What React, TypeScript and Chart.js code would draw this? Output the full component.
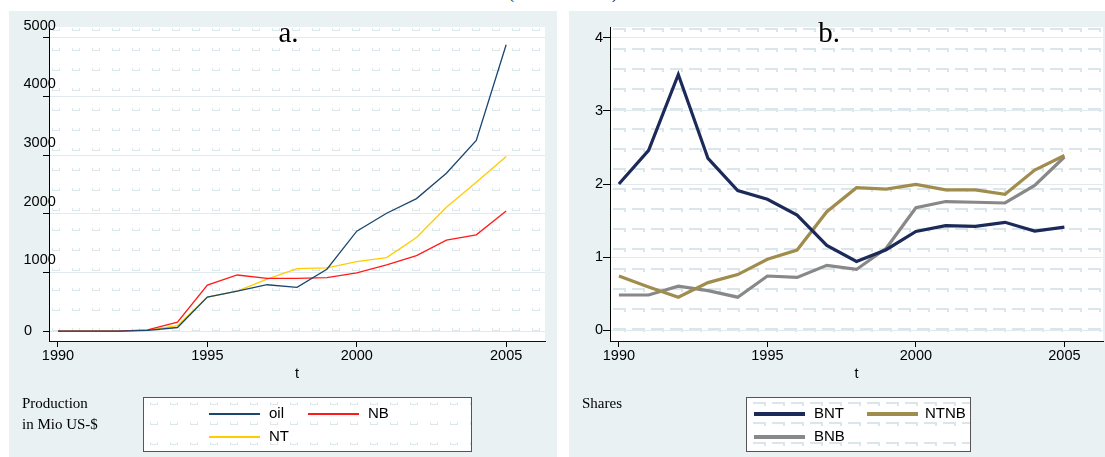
import React, { useEffect, useRef } from 'react';
import { Chart, registerables } from 'chart.js';

Chart.register(...registerables);

// ---------- data ----------
const years = [1990, 1991, 1992, 1993, 1994, 1995, 1996, 1997, 1998, 1999, 2000, 2001, 2002, 2003, 2004, 2005];

const oil = [0, 0, 0, 10, 60, 578, 680, 789, 745, 1054, 1702, 2007, 2257, 2690, 3250, 4880];
const nb = [0, 0, 0, 20, 150, 782, 955, 898, 898, 910, 990, 1126, 1286, 1548, 1640, 2046];
const nt = [0, 0, 0, 12, 90, 578, 680, 884, 1063, 1075, 1184, 1252, 1595, 2109, 2536, 2976];

const bnt = [2.0, 2.46, 3.5, 2.35, 1.91, 1.79, 1.575, 1.16, 0.94, 1.1, 1.35, 1.43, 1.42, 1.475, 1.356, 1.41];
const ntnb = [0.74, 0.59, 0.45, 0.65, 0.76, 0.97, 1.096, 1.62, 1.95, 1.93, 1.995, 1.92, 1.92, 1.86, 2.19, 2.39];
const bnb = [0.48, 0.48, 0.6, 0.54, 0.45, 0.74, 0.72, 0.886, 0.83, 1.12, 1.675, 1.76, 1.75, 1.74, 1.98, 2.37];

const xTicks = [1990, 1995, 2000, 2005];
const yTicksA = [0, 1000, 2000, 3000, 4000, 5000];
const yTicksB = [0, 1, 2, 3, 4];

const SANS = '"Liberation Sans", Arial, sans-serif';
const SERIF = '"Liberation Serif", "Times New Roman", serif';
const PANEL_BG = '#e9f1f3';

// ---------- background pattern tiles ----------
const tiles: Record<string, HTMLCanvasElement> = {};
function getTile(kind: 'a' | 'b'): HTMLCanvasElement {
  if (tiles[kind]) return tiles[kind];
  const c = document.createElement('canvas');
  const g = c.getContext('2d')!;
  if (kind === 'a') {
    c.width = 20; c.height = 20;
    g.fillStyle = '#dce7eb';
    g.fillRect(0, 2, 8, 1);
    g.fillRect(0, 0, 1, 3);
    g.fillRect(7, 0, 1, 3);
  } else {
    c.width = 19; c.height = 20;
    g.fillStyle = '#dbe6eb';
    g.fillRect(0, 0, 12, 2);
    g.fillRect(11, 0, 2, 4);
  }
  tiles[kind] = c;
  return c;
}

type Series = { label: string; data: number[]; color: string; width: number };

type ChartProps = {
  width: number;
  height: number;
  padRight: number;
  yWidth: number;
  yTickLen: number;
  yMin: number;
  yMax: number;
  yTicks: number[];
  series: Series[];
  kind: 'a' | 'b';
  customY: boolean;
};

function LineChart(p: ChartProps) {
  const ref = useRef<HTMLCanvasElement>(null);
  useEffect(() => {
    const canvas = ref.current!;
    const tile = getTile(p.kind);
    const deco = {
      id: 'deco',
      beforeDraw(chart: any) {
        const { ctx, chartArea: a } = chart;
        ctx.save();
        ctx.fillStyle = '#ffffff';
        ctx.fillRect(a.left, a.top, a.right - a.left, a.bottom - a.top);
        const pat = ctx.createPattern(tile, 'repeat');
        if (pat) {
          pat.setTransform(new DOMMatrix([1, 0, 0, 1, a.left + 3, a.top + 1]));
          ctx.fillStyle = pat;
          ctx.fillRect(a.left, a.top, a.right - a.left, a.bottom - a.top);
        }
        ctx.restore();
      },
      afterDraw(chart: any) {
        const { ctx, chartArea: a } = chart;
        ctx.save();
        ctx.fillStyle = '#000';
        ctx.font = `14.5px ${SANS}`;
        ctx.textAlign = 'center';
        ctx.textBaseline = 'middle';
        ctx.fillText('t', (a.left + a.right) / 2, a.bottom + 33);
        if (p.customY) {
          const s = chart.scales.y;
          for (const v of p.yTicks) {
            const y = s.getPixelForValue(v);
            if (v === 0) {
              ctx.textAlign = 'right';
              ctx.fillText('0', a.left - 17, y);
            } else {
              ctx.textAlign = 'left';
              ctx.fillText(String(v), 14.5, y - 12);
            }
          }
        }
        ctx.restore();
      },
    };

    const chart = new Chart(canvas, {
      type: 'line',
      data: {
        datasets: p.series.map((s) => ({
          label: s.label,
          data: years.map((x, i) => ({ x, y: s.data[i] })),
          borderColor: s.color,
          backgroundColor: s.color,
          borderWidth: s.width,
          pointRadius: 0,
          fill: false,
          tension: 0,
        })),
      },
      options: {
        animation: false,
        responsive: false,
        devicePixelRatio: 1,
        layout: { padding: { top: 16, right: p.padRight, left: 0, bottom: 0 } },
        plugins: { legend: { display: false }, tooltip: { enabled: false }, title: { display: false } },
        scales: {
          x: {
            type: 'linear',
            min: 1989.7,
            max: 2006.3,
            afterBuildTicks: (s: any) => { s.ticks = xTicks.map((v) => ({ value: v })); },
            afterFit: (s: any) => { s.height = p.height - 330; },
            grid: { drawOnChartArea: false, drawTicks: true, tickLength: 6, tickColor: '#000' },
            border: { display: true, color: '#111', width: 1 },
            ticks: {
              color: '#000', font: { family: SANS, size: 14.5 }, padding: 0,
              maxRotation: 0, autoSkip: false, callback: (v: any) => String(v),
            },
          },
          y: {
            type: 'linear',
            min: p.yMin,
            max: p.yMax,
            afterBuildTicks: (s: any) => { s.ticks = p.yTicks.map((v) => ({ value: v })); },
            afterFit: (s: any) => { s.width = p.yWidth; },
            grid: { color: '#e1eaee', lineWidth: 1, drawTicks: true, tickLength: p.yTickLen, tickColor: '#000' },
            border: { display: true, color: '#000', width: 1 },
            ticks: {
              display: !p.customY, color: '#000', font: { family: SANS, size: 14.5 }, padding: 0,
              autoSkip: false, callback: (v: any) => String(v),
            },
          },
        },
      } as any,
      plugins: [deco],
    });
    return () => chart.destroy();
  }, []);
  return (
    <canvas
      ref={ref}
      width={p.width}
      height={p.height}
      style={{ position: 'absolute', left: 0, top: 0, width: p.width, height: p.height }}
    />
  );
}

type LegendItem = { label: string; color: string; width: number; lineX: number; textX: number; row: number };

function Legend({ left, top, width, height, kind, items }: { left: number; top: number; width: number; height: number; kind: 'a' | 'b'; items: LegendItem[] }) {
  const url = getTile(kind).toDataURL();
  const rows = [17, 40];
  return (
    <div
      style={{
        position: 'absolute', left, top, width, height, boxSizing: 'border-box',
        border: '1px solid #555', backgroundColor: '#fff',
        backgroundImage: `url(${url})`, backgroundPosition: '6px 4px',
      }}
    >
      {items.map((it) => (
        <React.Fragment key={it.label}>
          <div
            style={{
              position: 'absolute', left: it.lineX, top: Math.round(rows[it.row] - it.width / 2 - 1),
              width: 51, height: it.width, background: it.color,
            }}
          />
          <div
            style={{
              position: 'absolute', left: it.textX, top: rows[it.row] - 11, height: 20, lineHeight: '20px',
              font: `15px ${SANS}`, color: '#000', whiteSpace: 'nowrap',
            }}
          >
            {it.label}
          </div>
        </React.Fragment>
      ))}
    </div>
  );
}

const C_OIL = '#1a476f';
const C_NB = '#ff1a1a';
const C_NT = '#ffcc00';
const C_BNT = '#1c2a5a';
const C_NTNB = '#a08c4c';
const C_BNB = '#888888';

export default function App() {
  const seriesA: Series[] = [
    { label: 'oil', data: oil, color: C_OIL, width: 1.3 },
    { label: 'NB', data: nb, color: C_NB, width: 1.3 },
    { label: 'NT', data: nt, color: C_NT, width: 1.3 },
  ];
  const seriesB: Series[] = [
    { label: 'BNT', data: bnt, color: C_BNT, width: 3.2 },
    { label: 'NTNB', data: ntnb, color: C_NTNB, width: 3.2 },
    { label: 'BNB', data: bnb, color: C_BNB, width: 3.2 },
  ];
  return (
    <div style={{ position: 'absolute', left: 0, top: 0, width: 1105, height: 457, background: '#fff', overflow: 'hidden' }}>
      <div style={{ position: 'absolute', left: 509, top: -14, font: `15px ${SERIF}`, lineHeight: '17px', color: '#000' }}>(</div>
      <div style={{ position: 'absolute', left: 612, top: -14, font: `15px ${SERIF}`, lineHeight: '17px', color: '#000' }}>)</div>

      {/* panel a */}
      <div style={{ position: 'absolute', left: 9, top: 11, width: 548, height: 446, background: PANEL_BG }}>
        <LineChart
          width={548} height={446} padRight={12} yWidth={40} yTickLen={6}
          yMin={-170} yMax={5182} yTicks={yTicksA} series={seriesA} kind="a" customY={true}
        />
        <div style={{ position: 'absolute', left: 229.5, top: 7, width: 100, textAlign: 'center', font: `29px ${SERIF}`, lineHeight: 1, color: '#000' }}>a.</div>
        <div style={{ position: 'absolute', left: 13, top: 381.5, font: `15px ${SERIF}`, lineHeight: '21px', color: '#000' }}>
          Production<br />in Mio US-$
        </div>
        <Legend
          left={134} top={386} width={329} height={55} kind="a"
          items={[
            { label: 'oil', color: C_OIL, width: 2, lineX: 65, textX: 125, row: 0 },
            { label: 'NB', color: C_NB, width: 2, lineX: 164, textX: 224, row: 0 },
            { label: 'NT', color: C_NT, width: 2, lineX: 65, textX: 125, row: 1 },
          ]}
        />
      </div>

      {/* panel b */}
      <div style={{ position: 'absolute', left: 569, top: 11, width: 536, height: 446, background: PANEL_BG }}>
        <LineChart
          width={536} height={446} padRight={2} yWidth={41} yTickLen={7}
          yMin={-0.15} yMax={4.15} yTicks={yTicksB} series={seriesB} kind="b" customY={false}
        />
        <div style={{ position: 'absolute', left: 210, top: 7, width: 100, textAlign: 'center', font: `29px ${SERIF}`, lineHeight: 1, color: '#000' }}>b.</div>
        <div style={{ position: 'absolute', left: 13, top: 381.5, font: `15px ${SERIF}`, lineHeight: '21px', color: '#000' }}>
          Shares
        </div>
        <Legend
          left={177} top={386} width={225} height={55} kind="b"
          items={[
            { label: 'BNT', color: C_BNT, width: 4, lineX: 7, textX: 67, row: 0 },
            { label: 'NTNB', color: C_NTNB, width: 4, lineX: 120, textX: 178, row: 0 },
            { label: 'BNB', color: C_BNB, width: 4, lineX: 7, textX: 67, row: 1 },
          ]}
        />
      </div>
    </div>
  );
}
